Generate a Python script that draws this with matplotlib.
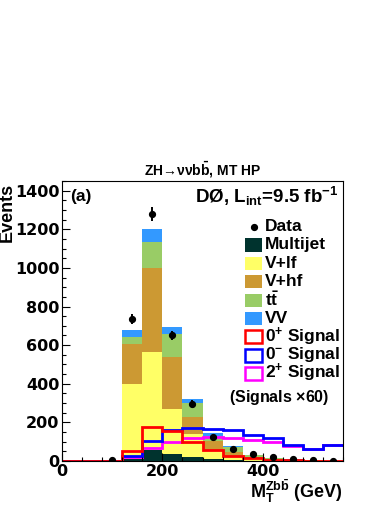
"""
ZH -> nunu bb, MT HP: transverse mass of the Zbb system, stacked backgrounds
"""

import numpy as np
import matplotlib

matplotlib.use("Agg")
import matplotlib.pyplot as plt
from matplotlib.patches import Rectangle

plt.rcParams["font.family"] = ["Liberation Sans", "DejaVu Sans"]
plt.rcParams["font.weight"] = "bold"
plt.rcParams["mathtext.fontset"] = "custom"
plt.rcParams["mathtext.rm"] = "Liberation Sans:bold"
plt.rcParams["mathtext.it"] = "Liberation Sans:bold"
plt.rcParams["mathtext.bf"] = "Liberation Sans:bold"

# bin edges in GeV (40 GeV bins)
bin_edges = [0, 40, 80, 120, 160, 200, 240, 280, 320, 360, 400, 440, 480, 520, 560]

# backgrounds, stacked from bottom
multijet = [0, 0, 0.5, 12, 57, 35, 22, 12, 5, 2, 1, 0.5, 0.3, 0.2]
v_lf = [0, 0, 1, 387, 510, 235, 118, 45, 21, 8, 4, 2, 1, 0.5]
v_hf = [0, 0, 0.5, 207, 433, 266, 88, 48, 22, 12, 5, 3, 1.5, 0.8]
ttbar = [0, 0, 0, 38, 135, 122, 71, 26, 23, 7, 4, 2, 1, 0.5]
diboson = [0, 0, 0.3, 35, 68, 38, 21, 12, 8, 3, 1, 0.5, 0.3, 0.2]

# data
data = [0, 0, 5, 735, 1280, 650, 297, 126, 61, 36, 22, 9, 5, 2]
data_err = [0, 0, 2, 27, 36, 25, 17, 11, 8, 6, 5, 3, 2, 1.4]

# signals (x60)
sig_0p = [0, 0, 0, 53, 176, 154, 97, 57, 27, 13, 5, 3, 2, 1]
sig_0m = [0, 0, 0, 26, 103, 162, 172, 168, 159, 135, 118, 83, 61, 83]
sig_2p = [0, 0, 0, 19, 68, 100, 118, 124, 118, 109, 100, 80, 61, 83]

bkg_names = ["Multijet", "V+lf", "V+hf", r"$\mathrm{t\bar{t}}$", "VV"]
bkg_colors = ["#00332e", "#ffff66", "#cc9933", "#99cc66", "#3399ff"]
sig_names = [r"0$^{+}$ Signal", r"0$^{\mathrm{-}}$ Signal", r"2$^{+}$ Signal"]
sig_colors = ["#ff0000", "#0000ff", "#ff00ff"]

fig = plt.figure(figsize=(3.9, 5.05), dpi=100)
ax = fig.add_axes([62 / 390, 1 - 461 / 505, 281 / 390, 280 / 505])

edges = np.array(bin_edges, dtype=float)
widths = np.diff(edges)
bottom = np.zeros(len(widths))
for vals, col in zip([multijet, v_lf, v_hf, ttbar, diboson], bkg_colors):
    vals = np.array(vals, dtype=float)
    ax.bar(edges[:-1], vals, width=widths, bottom=bottom, align="edge",
           color=col, linewidth=0)
    bottom += vals

for vals, col in zip([sig_2p, sig_0m, sig_0p], sig_colors[::-1]):
    ax.stairs(vals, edges, color=col, linewidth=2, baseline=None)

centers = 0.5 * (edges[:-1] + edges[1:])
d = np.array(data, dtype=float)
mask = d > 0
ax.errorbar(centers[mask], d[mask], yerr=np.array(data_err)[mask], fmt="o",
            color="k", ms=4.2, elinewidth=1.4, capsize=0, zorder=5)

ax.set_xlim(0, 560)
ax.set_ylim(0, 1450)
ax.set_xticks([0, 200, 400])
ax.set_xticks(np.arange(0, 561, 40), minor=True)
ax.set_yticks(np.arange(0, 1401, 200))
ax.set_yticks(np.arange(0, 1451, 50), minor=True)
ax.tick_params(which="both", direction="in", top=False, right=False)
ax.tick_params(which="major", length=6, width=0.8, pad=2)
ax.tick_params(which="minor", length=3, width=0.8)
for lab in ax.get_xticklabels() + ax.get_yticklabels():
    lab.set_fontfamily("DejaVu Sans")
    lab.set_fontweight("bold")
    lab.set_fontsize(11.5)
for sp in ax.spines.values():
    sp.set_linewidth(0.8)

ax.set_ylabel("Events", fontsize=13, fontweight="bold", loc="top", labelpad=0)
ax.yaxis.set_label_coords(-0.165, 0.995)
ax.set_xlabel(r"M$_{\mathrm{T}}^{\mathrm{Zb\bar{b}}}$ (GeV)", fontsize=13,
              fontweight="bold", loc="right", labelpad=-1.5)

fig.text(0.52, 1 - 170 / 505, "ZH→ννb" + r"$\mathrm{\bar{b}}$, MT HP",
         ha="center", va="center", fontsize=10, fontweight="bold")
ax.text(0.03, 0.945, "(a)", transform=ax.transAxes, fontsize=12.5,
        fontweight="bold", va="center")
ax.text(0.985, 0.945, r"DØ, L$_{\mathrm{int}}$=9.5 fb$^{\mathrm{-1}}$",
        transform=ax.transAxes, fontsize=13.5, fontweight="bold",
        ha="right", va="center")

# legend drawn by hand
row_y = [226.7, 245, 263.3, 281.6, 300, 318.3, 336.6, 355, 373.3]
box_x0, box_x1 = (245 - 62) / 281, (261.7 - 62) / 281
text_x = (265 - 62) / 281
box_h = 13 / 280


def to_ax(ypix):
    return (461 - ypix) / 280


ax.plot([(254 - 62) / 281], [to_ax(row_y[0])], "o", color="k", ms=4.2,
        transform=ax.transAxes, clip_on=False)
ax.text(text_x, to_ax(row_y[0]), "Data", transform=ax.transAxes,
        fontsize=12.5, fontweight="bold", va="center")
for i, (name, col) in enumerate(zip(bkg_names, bkg_colors)):
    yc = to_ax(row_y[i + 1])
    ax.add_patch(Rectangle((box_x0, yc - box_h / 2), box_x1 - box_x0, box_h,
                           facecolor=col, edgecolor=col, linewidth=0,
                           transform=ax.transAxes, clip_on=False))
    ax.text(text_x, yc, name, transform=ax.transAxes, fontsize=12.5,
            fontweight="bold", va="center")
for i, (name, col) in enumerate(zip(sig_names, sig_colors)):
    yc = to_ax(row_y[i + 6])
    ax.add_patch(Rectangle((box_x0, yc - box_h / 2), box_x1 - box_x0, box_h,
                           facecolor="white", edgecolor=col, linewidth=1.8,
                           transform=ax.transAxes, clip_on=False, zorder=6))
    ax.text(text_x, yc, name, transform=ax.transAxes, fontsize=12.5,
            fontweight="bold", va="center")
ax.text((279 - 62) / 281, to_ax(397.3), r"(Signals $\times$60)",
        transform=ax.transAxes, fontsize=11.5, fontweight="bold",
        ha="center", va="center")

fig.savefig("out.png", dpi=100)
